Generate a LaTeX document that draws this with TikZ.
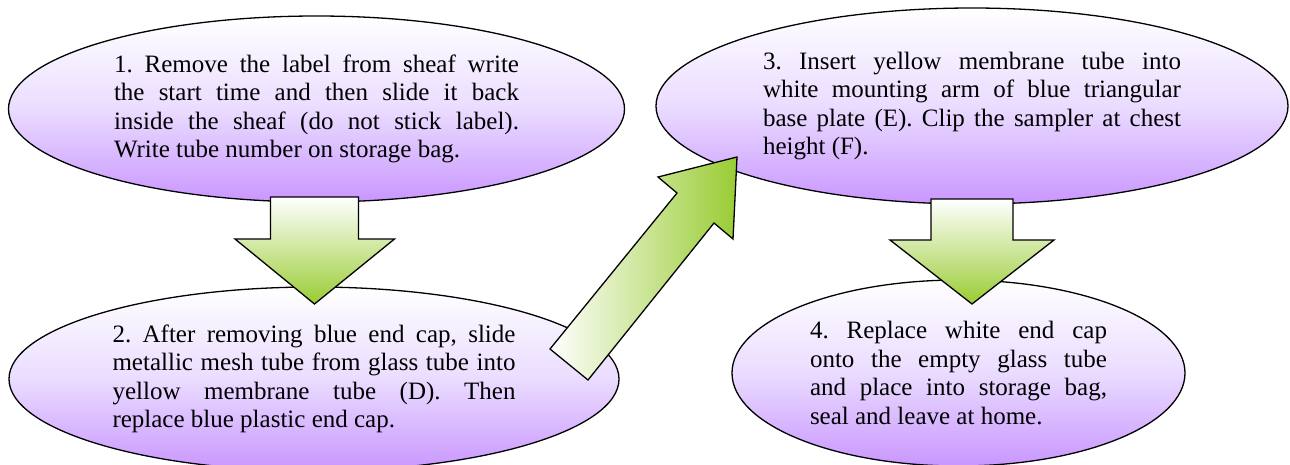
\documentclass[tikz,border=0pt]{standalone}
\usepackage{fontspec}
\setmainfont{Liberation Serif}
\usetikzlibrary{shapes.geometric}
\definecolor{purp}{RGB}{201,150,255}
\definecolor{purpmid}{RGB}{234,220,255}
\definecolor{grn}{RGB}{153,204,51}
\tikzset{
  stepell/.style={ellipse, draw=black, line width=1.3pt, inner sep=0pt,
    top color=white, bottom color=purp, middle color=purpmid,
    align=justify,
    font=\fontsize{25}{28.5}\selectfont,
    execute at begin node={\frenchspacing\hyphenpenalty=10000\relax\tolerance=10000\relax}},
  blockarrow/.style={draw=black, line width=1.3pt, line join=miter},
  downarrow/.style={blockarrow, top color=white, bottom color=grn},
  diagarrow/.style={blockarrow, left color=white, right color=grn}
}
\begin{document}
\begin{tikzpicture}[x=1pt,y=-1pt]
\useasboundingbox (0,0) rectangle (1290,464);

\node[stepell, minimum width=616pt, minimum height=186pt, text width=405pt] (s1) at (316.5,109)
  {1. Remove the label from sheaf write\linebreak the start time and then slide it back\linebreak inside the sheaf (do not stick label).\linebreak Write tube number on storage bag.};
\node[stepell, minimum width=610pt, minimum height=184pt, text width=403pt] (s2) at (314,379)
  {2. After removing blue end cap, slide\linebreak metallic mesh tube from glass tube into\linebreak yellow membrane tube (D). Then\linebreak replace blue plastic end cap.};
\node[stepell, minimum width=632pt, minimum height=196pt, text width=418pt] (s3) at (972,106)
  {3. Insert yellow membrane tube into\linebreak white mounting arm of blue triangular\linebreak base plate (E). Clip the sampler at chest\linebreak height (F).};
\node[stepell, minimum width=453pt, minimum height=186pt, text width=297pt] (s4) at (958.5,373)
  {4. Replace white end cap\linebreak onto the empty glass tube\linebreak and place into storage bag,\linebreak seal and leave at home.};

% arrow 1 -> 2
\coordinate (a1) at (314.5,197);
\shade[downarrow] ([xshift=-44pt]a1) -- ([xshift=44pt]a1) -- ++(0,42) -- ++(36,0)
  -- ([yshift=-107pt]a1) -- ([xshift=-79.5pt,yshift=-42pt]a1) -- ([xshift=-44pt,yshift=-42pt]a1) -- cycle;

% arrow 2 -> 3 (diagonal)
\coordinate (d0) at (550,349);
\shade[diagarrow] (d0) -- (677,193) -- (658,177) -- (737,157) -- (733,239) -- (714,223) -- (588,380) -- cycle;

% arrow 3 -> 4
\coordinate (a3) at (972,199);
\shade[downarrow] ([xshift=-41pt]a3) -- ([xshift=41pt]a3) -- ++(0,41) -- ++(41,0)
  -- ([yshift=-105pt]a3) -- ([xshift=-82pt,yshift=-41pt]a3) -- ([xshift=-41pt,yshift=-41pt]a3) -- cycle;
\end{tikzpicture}
\end{document}
